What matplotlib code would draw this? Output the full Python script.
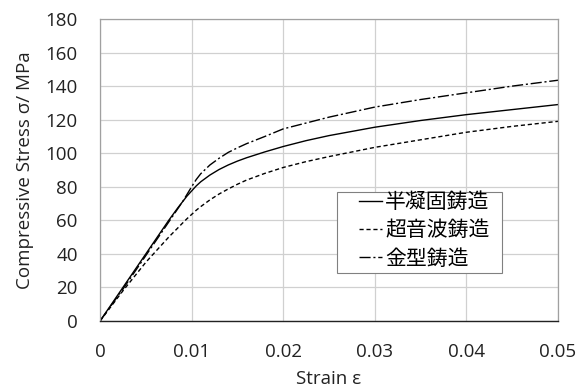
import matplotlib
matplotlib.use("Agg")
import matplotlib.pyplot as plt
from matplotlib.patches import Rectangle

# strain sample points and stress (MPa)
strain = [0, 0.0025, 0.005, 0.0075, 0.0085, 0.009, 0.0095, 0.010, 0.0105, 0.011, 0.012, 0.013, 0.014,
          0.015, 0.016, 0.018, 0.020, 0.0225, 0.025, 0.030, 0.035, 0.040, 0.045, 0.050]
semi_solid = [0, 20, 40, 60, 67.5, 71, 74.5, 77.5, 80.5, 83, 87, 90.3, 93,
              95.3, 97.3, 100.8, 104, 107.5, 110.5, 115.5, 119.5, 123, 126, 129]
ultrasonic = [0, 18, 35, 50, 55.5, 58.3, 61, 63.5, 66, 68.2, 72.2, 75.7, 78.7,
              81.5, 84, 88, 91.5, 95, 98, 103.5, 108, 112.5, 116, 119]
die_cast = [0, 19, 39, 59, 67, 71, 75.5, 80, 84.3, 87.8, 93, 97, 100.5,
            103.2, 105.7, 110, 114.5, 118, 121.5, 127.5, 132, 136, 140, 143.5]

labels = ['半凝固鋳造', '超音波鋳造', '金型鋳造']
xticks = [0, 0.01, 0.02, 0.03, 0.04, 0.05]
xticklabels = ['0', '0.01', '0.02', '0.03', '0.04', '0.05']
yticks = list(range(0, 181, 20))

plt.rcParams['font.family'] = ['Open Sans', 'Noto Sans CJK JP', 'DejaVu Sans']
fs = 13.5
txt = '#222222'

fig = plt.figure(figsize=(5.87, 3.9), dpi=100)
ax = fig.add_axes([0.1704, 0.1769, 0.7802, 0.7744])

lw = 1.0
ax.plot(strain, semi_solid, color='black', lw=lw, ls='-', label=labels[0])
ax.plot(strain, ultrasonic, color='black', lw=lw, ls=(0, (3, 2)), label=labels[1])
ax.plot(strain, die_cast, color='black', lw=lw, ls=(0, (8, 2, 1.5, 2)), label=labels[2])

ax.set_xlim(0, 0.05)
ax.set_ylim(0, 180)
ax.set_xticks(xticks)
ax.set_xticklabels(xticklabels)
ax.set_yticks(yticks)
ax.grid(True, color='#d0d0d0', lw=0.9)
ax.set_axisbelow(True)
ax.tick_params(length=0, labelsize=fs, colors=txt, pad=16)

for s in ['top', 'right', 'left']:
    ax.spines[s].set_color('#a0a0a0')
    ax.spines[s].set_linewidth(0.9)
ax.spines['bottom'].set_color('#222222')
ax.spines['bottom'].set_linewidth(1.0)

ax.set_xlabel('Strain ε', fontsize=fs, color=txt, labelpad=6)
ax.set_ylabel('Compressive Stress σ/ MPa', fontsize=fs, color=txt, labelpad=8)

# legend frame drawn separately so the inner padding can match the reference
frame = Rectangle((0.5175, 0.159), 0.3602, 0.2682, transform=ax.transAxes,
                  facecolor='white', edgecolor='#808080', lw=0.8, zorder=4)
ax.add_patch(frame)
leg = ax.legend(loc='upper left', bbox_to_anchor=(0.5655, 0.43),
                borderaxespad=0, borderpad=0, frameon=False,
                handlelength=1.1, handletextpad=0.15, labelspacing=0.3,
                prop={'family': ['Noto Sans CJK JP', 'DejaVu Sans'], 'size': 15})
leg.set_zorder(5)

fig.savefig('out.png', dpi=100)
